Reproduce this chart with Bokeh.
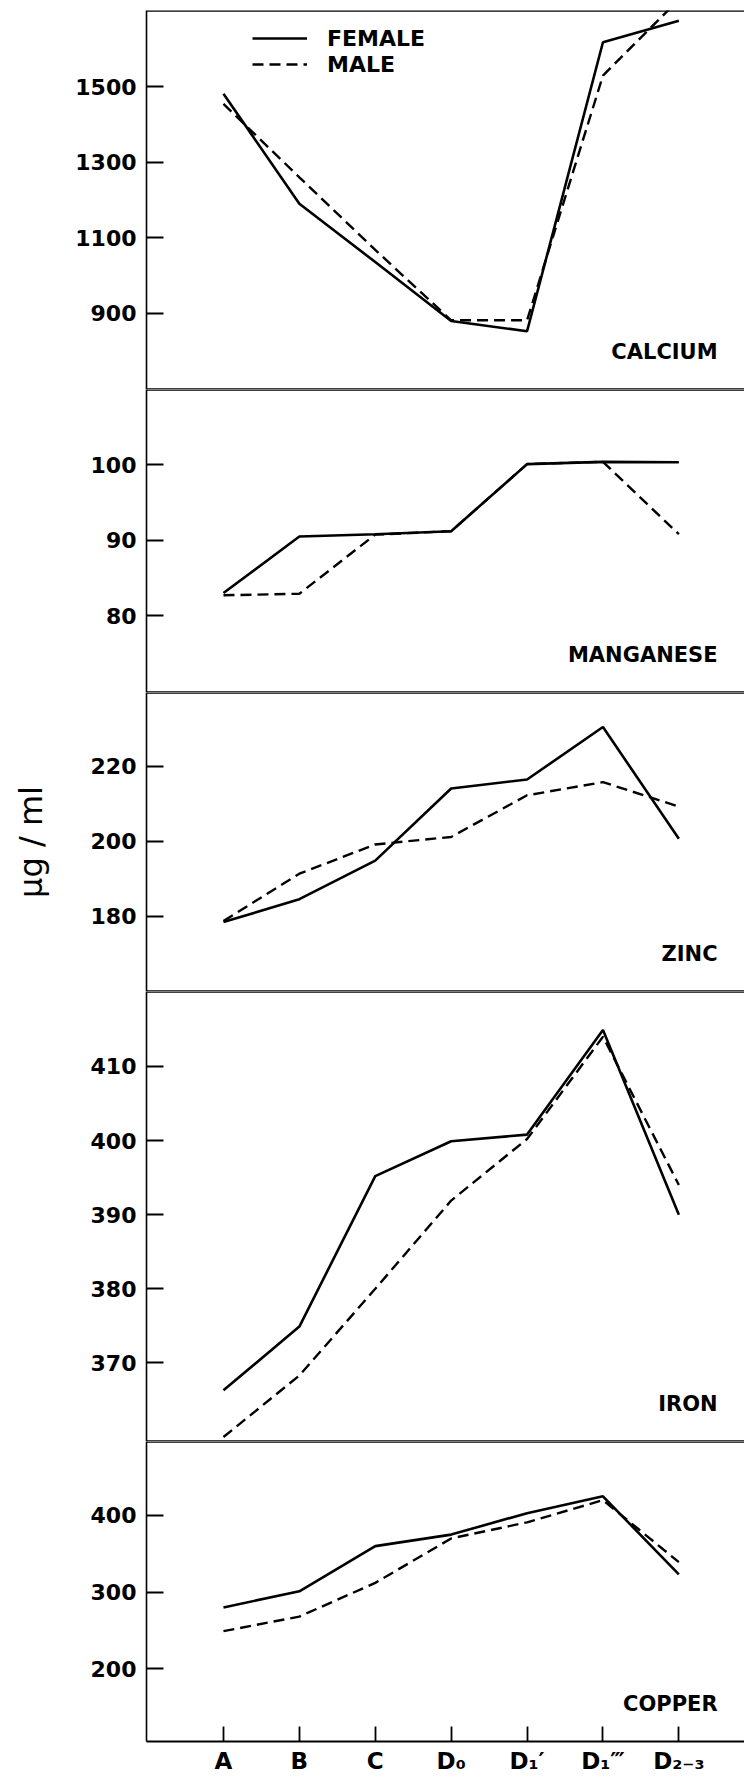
from bokeh.plotting import figure
from bokeh.layouts import column
from bokeh.models import Range1d, FixedTicker, Span, Label, Legend, LegendItem
from bokeh.embed import file_html
from bokeh.resources import INLINE

# ---------------- data ----------------
stages = ["A", "B", "C", "D₀", "D₁′", "D₁‴", "D₂₋₃"]
stage_pos = [1, 2, 3, 4, 5, 6, 7]

calcium_female = [1481, 1190, 1036, 880, 853, 1617, 1674]
calcium_male = [1454, 1260, 1068, 882, 882, 1529, 1730]
calcium_ticks = [900, 1100, 1300, 1500]

manganese_female = [83.0, 90.5, 90.8, 91.2, 100.1, 100.4, 100.35]
manganese_male = [82.7, 82.9, 90.75, 91.2, 100.1, 100.4, 90.8]
manganese_ticks = [80, 90, 100]

zinc_female = [178.5, 184.6, 194.9, 214.1, 216.5, 230.5, 200.7]
zinc_male = [178.8, 191.4, 199.2, 201.2, 212.3, 215.8, 209.3]
zinc_ticks = [180, 200, 220]

iron_female = [366.3, 374.9, 395.2, 399.9, 400.8, 414.9, 390.0]
iron_male = [360.0, 368.3, 380.0, 391.9, 400.2, 414.0, 394.0]
iron_ticks = [370, 380, 390, 400, 410]

copper_female = [280, 301, 360, 375, 403, 425, 323]
copper_male = [249, 268, 312, 370, 391, 420, 339]
copper_ticks = [200, 300, 400]

panel_names = ["CALCIUM", "MANGANESE", "ZINC", "IRON", "COPPER"]
y_label = "µg / ml"
legend_labels = ["FEMALE", "MALE"]

# ---------------- layout / style ----------------
FONT = "DejaVu Sans"
FRAME_W = 598
X_START = -0.014
X_END = X_START + FRAME_W / 75.9

panels = [
    dict(name=panel_names[0], f=calcium_female, m=calcium_male, ticks=calcium_ticks,
         yr=(699, 1701), fh=379, top=10),
    dict(name=panel_names[1], f=manganese_female, m=manganese_male, ticks=manganese_ticks,
         yr=(69.8, 110.0), fh=303, top=0),
    dict(name=panel_names[2], f=zinc_female, m=zinc_male, ticks=zinc_ticks,
         yr=(160.0, 239.7), fh=299, top=0),
    dict(name=panel_names[3], f=iron_female, m=iron_male, ticks=iron_ticks,
         yr=(359.4, 420.1), fh=450, top=0),
    dict(name=panel_names[4], f=copper_female, m=copper_male, ticks=copper_ticks,
         yr=(105.0, 496.5), fh=300, top=0),
]

figs = []
for i, pd_ in enumerate(panels):
    last = i == len(panels) - 1
    p = figure(
        frame_width=FRAME_W, frame_height=pd_["fh"],
        x_range=Range1d(X_START, X_END), y_range=Range1d(*pd_["yr"]),
        x_axis_location="below" if last else None,
        output_backend="svg", toolbar_location=None,
        min_border_left=146, min_border_right=0,
        min_border_top=pd_["top"], min_border_bottom=36 if last else 0,
        background_fill_color="white", border_fill_color="white",
    )
    p.outline_line_color = None
    p.xgrid.visible = False
    p.ygrid.visible = False

    # y axis
    ya = p.yaxis[0]
    ya.ticker = FixedTicker(ticks=pd_["ticks"])
    ya.axis_line_color = "black"
    ya.axis_line_width = 1.6
    ya.major_tick_in = 17
    ya.major_tick_out = 0
    ya.major_tick_line_width = 2
    ya.major_tick_line_color = "black"
    ya.minor_tick_line_color = None
    ya.major_label_standoff = 10
    ya.major_label_text_font = FONT
    ya.major_label_text_font_size = "22px"
    ya.major_label_text_font_style = "bold"
    ya.major_label_text_color = "black"
    if i == 2:
        ya.axis_label = y_label
        ya.axis_label_text_font = FONT
        ya.axis_label_text_font_size = "32px"
        ya.axis_label_text_font_style = "normal"
        ya.axis_label_text_color = "black"
        ya.axis_label_standoff = 38

    if last:
        xa = p.xaxis[0]
        xa.ticker = FixedTicker(ticks=stage_pos)
        xa.major_label_overrides = {pos: lab for pos, lab in zip(stage_pos, stages)}
        xa.axis_line_color = "black"
        xa.axis_line_width = 2.2
        xa.major_tick_in = 15
        xa.major_tick_out = 0
        xa.major_tick_line_width = 1.8
        xa.minor_tick_line_color = None
        xa.major_label_standoff = 6
        xa.major_label_text_font = FONT
        xa.major_label_text_font_size = "23px"
        xa.major_label_text_font_style = "bold"
        xa.major_label_text_color = "black"

    # panel boundary lines
    p.add_layout(Span(location=pd_["yr"][1], dimension="width",
                      line_color="black", line_width=2.6))
    if not last:
        p.add_layout(Span(location=pd_["yr"][0], dimension="width",
                          line_color="black", line_width=2.6))

    rf = p.line(stage_pos, pd_["f"], line_color="black", line_width=2.6)
    rm = p.line(stage_pos, pd_["m"], line_color="black", line_width=2.4,
                line_dash="11 6")

    # panel name
    span_y = pd_["yr"][1] - pd_["yr"][0]
    p.add_layout(Label(x=7.51, y=pd_["yr"][0] + span_y * 38.0 / pd_["fh"],
                       text=pd_["name"], text_align="right", text_baseline="middle",
                       text_font=FONT, text_font_size="21px", text_font_style="bold",
                       text_color="black"))

    if i == 0:
        leg = Legend(items=[LegendItem(label=legend_labels[0], renderers=[rf]),
                            LegendItem(label=legend_labels[1], renderers=[rm])],
                     location=(106, 312), orientation="vertical")
        leg.glyph_width = 55
        leg.glyph_height = 26
        leg.label_standoff = 20
        leg.spacing = 0
        leg.padding = 0
        leg.margin = 0
        leg.border_line_color = None
        leg.background_fill_alpha = 0
        leg.label_text_font = FONT
        leg.label_text_font_size = "22px"
        leg.label_text_font_style = "bold"
        leg.label_text_color = "black"
        leg.label_height = 26
        p.add_layout(leg, "center")

    figs.append(p)

layout = column(*figs, spacing=0)
open("out.html", "w").write(file_html(layout, INLINE))
